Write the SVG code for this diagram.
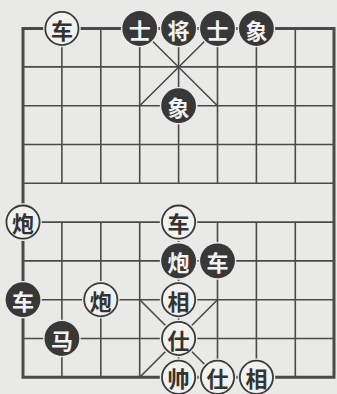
<svg xmlns="http://www.w3.org/2000/svg" width="337" height="394" viewBox="0 0 337 394">
<style>
.bg{fill:#e9e9e7}
.ln{stroke:#4a4a4a;stroke-width:1.6;fill:none}
.bd{stroke:#4a4a4a;stroke-width:3;fill:none}
.halo{fill:#e9e9e7}
.red{fill:#f1f1ef;stroke:#3a3a3a;stroke-width:1.8}
.blk{fill:#383838}
.tr{font-family:"Noto Sans CJK SC","Noto Sans CJK JP",sans-serif;font-weight:bold;font-size:22px;fill:#333;text-anchor:middle;dominant-baseline:central}
.tb{font-family:"Noto Sans CJK SC","Noto Sans CJK JP",sans-serif;font-weight:bold;font-size:22px;fill:#f2f2f2;text-anchor:middle;dominant-baseline:central}
</style>
<defs>
<g id="rp"><circle r="18.8" class="halo"/><circle r="16.6" class="red"/></g>
<g id="bp"><circle r="18.8" class="halo"/><circle r="17.4" class="blk"/></g>
</defs>
<rect class="bg" width="337" height="394"/>
<g id="connectors">
<path class="ln" d="M23 66.9H334M23 105.7H334M23 144.5H334M23 183.3H334M23 222.1H334M23 260.9H334M23 299.7H334M23 338.5H334"/>
<path class="ln" d="M61.9 28.5V183.3M100.8 28.5V183.3M139.7 28.5V183.3M178.6 28.5V183.3M217.5 28.5V183.3M256.4 28.5V183.3M295.3 28.5V183.3"/>
<path class="ln" d="M61.9 222.1V377.3M100.8 222.1V377.3M139.7 222.1V377.3M178.6 222.1V377.3M217.5 222.1V377.3M256.4 222.1V377.3M295.3 222.1V377.3"/>
<path class="ln" d="M139.7 28.5L217.5 105.7M217.5 28.5L139.7 105.7M139.7 299.7L217.5 377.3M217.5 299.7L139.7 377.3"/>
<path class="bd" d="M23 28.5H334V377.3H23Z"/>
</g>
<g id="r_che1" transform="translate(61.9,28.5)"><use href="#rp"/><text class="tr">车</text></g>
<g id="b_shi1" transform="translate(139.7,28.5)"><use href="#bp"/><text class="tb">士</text></g>
<g id="b_jiang" transform="translate(178.6,28.5)"><use href="#bp"/><text class="tb">将</text></g>
<g id="b_shi2" transform="translate(217.5,28.5)"><use href="#bp"/><text class="tb">士</text></g>
<g id="b_xiang1" transform="translate(256.4,28.5)"><use href="#bp"/><text class="tb">象</text></g>
<g id="b_xiang2" transform="translate(178.6,105.7)"><use href="#bp"/><text class="tb">象</text></g>
<g id="r_pao1" transform="translate(23,222.1)"><use href="#rp"/><text class="tr">炮</text></g>
<g id="r_che2" transform="translate(178.6,222.1)"><use href="#rp"/><text class="tr">车</text></g>
<g id="b_pao" transform="translate(178.6,260.9)"><use href="#bp"/><text class="tb">炮</text></g>
<g id="b_che1" transform="translate(217.5,260.9)"><use href="#bp"/><text class="tb">车</text></g>
<g id="b_che2" transform="translate(23,299.7)"><use href="#bp"/><text class="tb">车</text></g>
<g id="r_pao2" transform="translate(100.8,299.7)"><use href="#rp"/><text class="tr">炮</text></g>
<g id="r_xiang1" transform="translate(178.6,299.7)"><use href="#rp"/><text class="tr">相</text></g>
<g id="b_ma" transform="translate(61.9,338.5)"><use href="#bp"/><text class="tb">马</text></g>
<g id="r_shi1" transform="translate(178.6,338.5)"><use href="#rp"/><text class="tr">仕</text></g>
<g id="r_shuai" transform="translate(178.6,377.3)"><use href="#rp"/><text class="tr">帅</text></g>
<g id="r_shi2" transform="translate(217.5,377.3)"><use href="#rp"/><text class="tr">仕</text></g>
<g id="r_xiang2" transform="translate(256.4,377.3)"><use href="#rp"/><text class="tr">相</text></g>
</svg>
